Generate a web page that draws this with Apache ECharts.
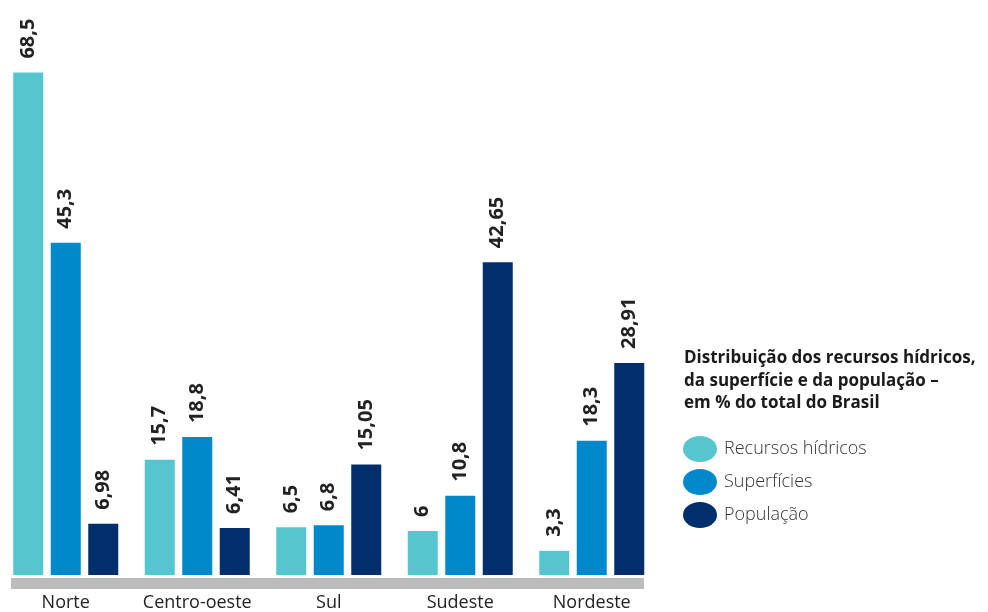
<!DOCTYPE html>
<html>
<head>
<meta charset="utf-8">
<script src="https://cdn.jsdelivr.net/npm/echarts@6/dist/echarts.min.js"></script>
<style>
  html, body { margin: 0; padding: 0; background: #fff; }
  #chart { width: 988px; height: 612px; }
</style>
</head>
<body>
<div id="chart"></div>
<script>
const regioes = ['Norte', 'Centro-oeste', 'Sul', 'Sudeste', 'Nordeste']
const recursosHidricos = [68.5, 15.7, 6.5, 6, 3.3]
const superficies = [45.3, 18.8, 6.8, 10.8, 18.3]
const populacao = [6.98, 6.41, 15.05, 42.65, 28.91]
const nomesSeries = ['Recursos hídricos', 'Superfícies', 'População']
const cores = ['#55C5D0', '#0088CC', '#002F6C']

const fonte = '"Open Sans", "Noto Sans", sans-serif'
const chart = echarts.init(document.getElementById('chart'))

const rotulo = {
  show: true,
  position: 'top',
  rotate: 90,
  align: 'left',
  verticalAlign: 'middle',
  distance: 14,
  fontFamily: fonte,
  fontWeight: 'bold',
  fontSize: 20,
  color: '#222',
  formatter: (p) => String(p.value).replace('.', ',')
}

const serie = (nome, dados, cor) => ({
  name: nome,
  type: 'bar',
  data: dados,
  barWidth: 30,
  barGap: '25%',
  itemStyle: { color: cor },
  label: rotulo
})

const option = {
  animation: false,
  color: cores,
  title: {
    text: 'Distribuição dos recursos hídricos,\nda superfície e da população –\nem % do total do Brasil',
    left: 679,
    top: 342,
    textStyle: {
      fontFamily: fonte,
      fontWeight: 'bold',
      fontSize: 17,
      lineHeight: 22.5,
      color: '#1a1a1a'
    }
  },
  legend: {
    orient: 'vertical',
    left: 678,
    top: 431,
    itemWidth: 34,
    itemHeight: 26,
    itemGap: 7,
    symbolKeepAspect: false,
    icon: 'path://M0,50 A50,50 0 1,0 100,50 A50,50 0 1,0 0,50 Z',
    textStyle: { fontFamily: fonte, fontSize: 18, color: '#333', fontWeight: 300, padding: [0, 0, 0, 2] },
    data: nomesSeries
  },
  grid: { left: -5, width: 662.5, top: 0, bottom: 34, containLabel: false },
  xAxis: {
    type: 'category',
    data: regioes,
    axisLine: { show: false },
    axisTick: { show: false },
    axisLabel: { interval: 0, margin: 19, fontFamily: fonte, fontSize: 18, color: '#222' }
  },
  yAxis: {
    type: 'value',
    min: 0,
    max: 78.4,
    show: false,
    splitLine: { show: false }
  },
  graphic: [
    { type: 'rect', shape: { x: 11, y: 578, width: 633, height: 11 }, style: { fill: '#BCBCBF' }, z: 0 }
  ],
  series: [
    serie(nomesSeries[0], recursosHidricos, cores[0]),
    serie(nomesSeries[1], superficies, cores[1]),
    serie(nomesSeries[2], populacao, cores[2])
  ]
}

chart.setOption(option)
</script>
</body>
</html>
